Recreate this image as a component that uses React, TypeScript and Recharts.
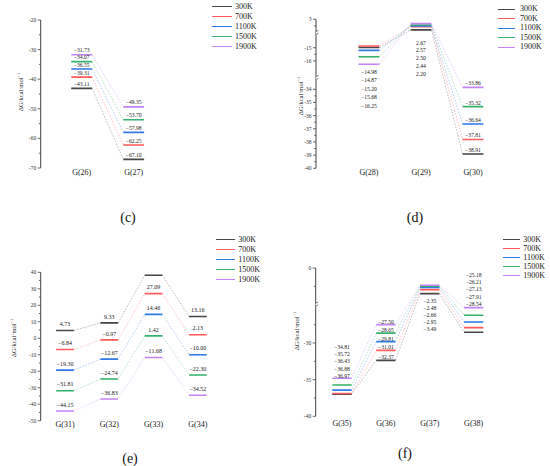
import React from 'react';
import { ComposedChart, Line, Scatter, XAxis, YAxis } from 'recharts';

const TEMPS = ['300K', '700K', '1100K', '1500K', '1900K'];
const COLORS = ['#474747', '#ff5c5c', '#2f7be6', '#36b26e', '#c585f5'];

// (c)
const STATES_C = ['G(26)', 'G(27)'];
const C_300K = [-43.11, -67.1];
const C_700K = [-39.31, -62.25];
const C_1100K = [-36.55, -57.98];
const C_1500K = [-34.07, -53.7];
const C_1900K = [-31.73, -49.35];
const MAJOR_C = [-20, -30, -40, -50, -60, -70];
const MINOR_C = [-25, -35, -45, -55, -65];

// (d)
const STATES_D = ['G(28)', 'G(29)', 'G(30)'];
const D_300K = [-14.98, 2.2, -38.91];
const D_700K = [-14.87, 2.44, -37.81];
const D_1100K = [-15.2, 2.5, -36.64];
const D_1500K = [-15.68, 2.57, -35.32];
const D_1900K = [-16.25, 2.67, -33.86];
const MAJOR_D = [3, -15, -16, -34, -35, -36, -37, -38, -39, -40];
const MINOR_D = [2.5, -15.5, -34.5, -35.5, -36.5, -37.5, -38.5, -39.5];

// (e)
const STATES_E = ['G(31)', 'G(32)', 'G(33)', 'G(34)'];
const E_300K = [4.73, 9.33, 38.21, 13.16];
const E_700K = [-6.84, -0.97, 27.09, 2.13];
const E_1100K = [-19.3, -12.67, 14.46, -10.0];
const E_1500K = [-31.81, -24.74, 1.42, -22.3];
const E_1900K = [-44.15, -36.83, -11.68, -34.52];
const MAJOR_E = [40, 30, 20, 10, 0, -10, -20, -30, -40, -50];
const MINOR_E = [35, 25, 15, 5, -5, -15, -25, -35, -45];

// (f)
const STATES_F = ['G(35)', 'G(36)', 'G(37)', 'G(38)'];
const F_300K = [-36.97, -32.37, -3.49, -28.54];
const F_700K = [-36.88, -31.01, -2.95, -27.91];
const F_1100K = [-36.43, -29.81, -2.66, -27.13];
const F_1500K = [-35.72, -28.65, -2.48, -26.21];
const F_1900K = [-34.81, -27.5, -2.35, -25.18];
const MAJOR_F = [0, -30, -35, -40];
const MINOR_F = [-2.5, -27.5, -32.5, -37.5];

const FONT = '"Liberation Serif", "Times New Roman", serif';
const W = 275;
const H = 233;

const fmt = (v: number) => (v < 0 ? '\u2212' : '') + Math.abs(v).toFixed(2);

type Stack = { cat: number; anchor: number; order: number[]; from: number; step: number };

type Cfg = {
  left: number;
  top: number;
  caption: string;
  states: string[];
  series: number[][];
  toT: (v: number) => number;
  yDomain: [number, number];
  majors: number[];
  minors: number[];
  breaks: number[];
  xDomain: [number, number];
  margin: { top: number; right: number; bottom: number; left: number };
  axisX: number;
  halfW: number;
  above: number[];
  aboveDy: number;
  labelSize: number;
  stacks: Stack[];
  xLabelDy: number;
  legend: { x: number; w: number; tx: number; y0: number; step: number };
  cap: { x: number; y: number };
  title: { x: number; y: number };
};

const levelData = (vals: number[], toT: (v: number) => number, w: number) =>
  vals.flatMap((v, i) => [
    { x: i + 1 - w, y: toT(v) },
    { x: i + 1 + w, y: toT(v) },
    { x: i + 1.5, y: null },
  ]);

const pathData = (vals: number[], toT: (v: number) => number, w: number) =>
  vals.flatMap((v, i) => [
    { x: i + 1 - w, y: toT(v) },
    { x: i + 1 + w, y: toT(v) },
  ]);

const BreakMark = (p: any) => (
  <g>
    <rect x={p.cx - 2.5} y={p.cy - 1.5} width={5} height={3} fill="#fff" />
    <line x1={p.cx - 2.5} y1={p.cy - 0.2} x2={p.cx + 2.5} y2={p.cy - 2.6} stroke="#444" strokeWidth={0.7} />
    <line x1={p.cx - 2.5} y1={p.cy + 2.6} x2={p.cx + 2.5} y2={p.cy + 0.2} stroke="#444" strokeWidth={0.7} />
  </g>
);

function Panel({ cfg }: { cfg: Cfg }) {
  const { toT, series, halfW } = cfg;
  const key = (t: number) => t.toFixed(3);
  const majorMap = new Map(cfg.majors.map((v) => [key(toT(v)), String(v)]));
  const ticks = [...cfg.majors, ...cfg.minors].map(toT);

  const YTick = (p: any) => {
    const label = majorMap.get(key(Number(p.payload.value)));
    const len = label !== undefined ? 3 : 1.8;
    return (
      <g>
        <line x1={p.x - len} y1={p.y} x2={p.x} y2={p.y} stroke="#444" strokeWidth={0.8} />
        {label !== undefined && (
          <text x={p.x - 4.5} y={p.y} textAnchor="end" dominantBaseline="central" fontSize={5.5} fontFamily={FONT} fill="#333">
            {label}
          </text>
        )}
      </g>
    );
  };

  const XTick = (p: any) => (
    <text x={p.x} y={p.y + cfg.xLabelDy} textAnchor="middle" dominantBaseline="central" fontSize={8} fontFamily={FONT} fill="#222">
      {cfg.states[Math.round(p.payload.value) - 1]}
    </text>
  );

  return (
    <div style={{ position: 'absolute', left: cfg.left, top: cfg.top, width: W, height: H }}>
      <ComposedChart width={W} height={H} margin={cfg.margin}>
        <XAxis
          type="number"
          dataKey="x"
          domain={cfg.xDomain}
          ticks={cfg.states.map((_, i) => i + 1)}
          interval={0}
          axisLine={false}
          tickLine={false}
          tickSize={0}
          tickMargin={0}
          height={20}
          tick={XTick}
          allowDataOverflow
        />
        <YAxis
          type="number"
          dataKey="y"
          domain={cfg.yDomain}
          ticks={ticks}
          interval={0}
          width={cfg.axisX}
          tickSize={0}
          tickMargin={0}
          tickLine={false}
          axisLine={{ stroke: '#444', strokeWidth: 1 }}
          tick={YTick}
          allowDataOverflow
          label={{
            content: () => (
              <text
                x={cfg.title.x}
                y={cfg.title.y}
                transform={`rotate(-90 ${cfg.title.x} ${cfg.title.y})`}
                textAnchor="middle"
                dominantBaseline="central"
                fontSize={6.5}
                fontFamily={FONT}
                fill="#222"
              >
                ΔG/kcal·mol
                <tspan dy={-2.2} fontSize={4.5}>
                  −1
                </tspan>
              </text>
            ),
          }}
        />
        {series.map((vals, s) => (
          <Line
            key={`path-${s}`}
            data={pathData(vals, toT, halfW)}
            dataKey="y"
            type="linear"
            stroke={COLORS[s]}
            strokeOpacity={0.6}
            strokeWidth={0.6}
            strokeDasharray="1.6 1.4"
            dot={false}
            activeDot={false}
            legendType="none"
            isAnimationActive={false}
          />
        ))}
        {series.map((vals, s) => (
          <Line
            key={`level-${s}`}
            data={levelData(vals, toT, halfW)}
            dataKey="y"
            type="linear"
            stroke={COLORS[s]}
            strokeWidth={1.6}
            dot={false}
            activeDot={false}
            name={TEMPS[s]}
            isAnimationActive={false}
          />
        ))}
        {series.map((vals, s) => (
          <Scatter
            key={`lab-${s}`}
            data={cfg.above.map((c) => ({ x: c + 1, y: toT(vals[c]), label: fmt(vals[c]) }))}
            dataKey="y"
            legendType="none"
            isAnimationActive={false}
            shape={(p: any) => (
              <text
                x={p.cx}
                y={p.cy - cfg.aboveDy}
                textAnchor="middle"
                dominantBaseline="central"
                fontSize={cfg.labelSize}
                fontFamily={FONT}
                fill="#222"
              >
                {p.payload.label}
              </text>
            )}
          />
        ))}
        {cfg.stacks.map((st, k) => (
          <Scatter
            key={`stack-${k}`}
            data={[{ x: st.cat + 1, y: toT(series[st.anchor][st.cat]), rows: st.order.map((s) => fmt(series[s][st.cat])) }]}
            dataKey="y"
            legendType="none"
            isAnimationActive={false}
            shape={(p: any) => (
              <g>
                {p.payload.rows.map((r: string, j: number) => (
                  <text
                    key={j}
                    x={p.cx}
                    y={p.cy + st.from + j * st.step}
                    textAnchor="middle"
                    dominantBaseline="central"
                    fontSize={cfg.labelSize}
                    fontFamily={FONT}
                    fill="#222"
                  >
                    {r}
                  </text>
                ))}
              </g>
            )}
          />
        ))}
        {cfg.breaks.length > 0 && (
          <Scatter
            data={cfg.breaks.map((b) => ({ x: cfg.xDomain[0], y: b }))}
            dataKey="y"
            legendType="none"
            isAnimationActive={false}
            shape={BreakMark}
          />
        )}
      </ComposedChart>
      {TEMPS.map((t, s) => {
        const y = cfg.legend.y0 + s * cfg.legend.step;
        return (
          <React.Fragment key={t}>
            <div
              style={{
                position: 'absolute',
                left: cfg.legend.x,
                top: y - 0.6,
                width: cfg.legend.w,
                height: 1.2,
                background: COLORS[s],
              }}
            />
            <div
              style={{
                position: 'absolute',
                left: cfg.legend.tx,
                top: y - 5,
                height: 10,
                lineHeight: '10px',
                fontSize: 8,
                fontFamily: FONT,
                color: '#222',
                whiteSpace: 'nowrap',
              }}
            >
              {t}
            </div>
          </React.Fragment>
        );
      })}
      <div
        style={{
          position: 'absolute',
          left: cfg.cap.x - 20,
          width: 40,
          top: cfg.cap.y - 8,
          height: 16,
          lineHeight: '16px',
          textAlign: 'center',
          fontSize: 14,
          fontFamily: FONT,
          color: '#111',
        }}
      >
        {cfg.caption}
      </div>
    </div>
  );
}

const toD = (v: number) => (v > 0 ? v - 31.69 : v > -20 ? v - 15.85 : v);
const toF = (v: number) => (v > -5.2 ? v : v + 19.77);

const PANELS: Cfg[] = [
  {
    left: 0,
    top: 0,
    caption: '(c)',
    states: STATES_C,
    series: [C_300K, C_700K, C_1100K, C_1500K, C_1900K],
    toT: (v) => v,
    yDomain: [-70, -20],
    majors: MAJOR_C,
    minors: MINOR_C,
    breaks: [],
    xDomain: [0.2115, 3.0],
    margin: { top: 20, right: 89.3, bottom: 45, left: 0 },
    axisX: 40.7,
    halfW: 0.2,
    above: [0, 1],
    aboveDy: 4.4,
    labelSize: 5.6,
    stacks: [],
    xLabelDy: 4,
    legend: { x: 212.3, w: 19.4, tx: 235, y0: 6.7, step: 10 },
    cap: { x: 128, y: 218 },
    title: { x: 20, y: 92 },
  },
  {
    left: 275,
    top: 0,
    caption: '(d)',
    states: STATES_D,
    series: [D_300K, D_700K, D_1100K, D_1500K, D_1900K],
    toT: toD,
    yDomain: [-40, -28.69],
    majors: MAJOR_D,
    minors: MINOR_D,
    breaks: [-29.73, -33.15],
    xDomain: [-0.019, 3.5],
    margin: { top: 19.3, right: 51, bottom: 44.7, left: 0 },
    axisX: 41,
    halfW: 0.2,
    above: [2],
    aboveDy: 4,
    labelSize: 5.6,
    stacks: [
      { cat: 0, anchor: 4, order: [0, 1, 2, 3, 4], from: 7.5, step: 8.5 },
      { cat: 1, anchor: 0, order: [4, 3, 2, 1, 0], from: 12.7, step: 7.9 },
    ],
    xLabelDy: 3.7,
    legend: { x: 222.7, w: 17.3, tx: 245, y0: 9.3, step: 9.5 },
    cap: { x: 140, y: 218 },
    title: { x: 25, y: 96 },
  },
  {
    left: 0,
    top: 233,
    caption: '(e)',
    states: STATES_E,
    series: [E_300K, E_700K, E_1100K, E_1500K, E_1900K],
    toT: (v) => v,
    yDomain: [-50, 40],
    majors: MAJOR_E,
    minors: MINOR_E,
    breaks: [],
    xDomain: [0.451, 4.6],
    margin: { top: 39.3, right: 50.6, bottom: 25.3, left: 0 },
    axisX: 40.7,
    halfW: 0.2,
    above: [0, 1, 2, 3],
    aboveDy: 6.3,
    labelSize: 6,
    stacks: [],
    xLabelDy: 3.3,
    legend: { x: 216, w: 19, tx: 238.3, y0: 6.7, step: 10 },
    cap: { x: 130, y: 225.5 },
    title: { x: 13.3, y: 105 },
  },
  {
    left: 275,
    top: 233,
    caption: '(f)',
    states: STATES_F,
    series: [F_300K, F_700K, F_1100K, F_1500K, F_1900K],
    toT: toF,
    yDomain: [-20.23, 0],
    majors: MAJOR_F,
    minors: MINOR_F,
    breaks: [-5.0],
    xDomain: [0.401, 4.6],
    margin: { top: 35, right: 50, bottom: 29.7, left: 0 },
    axisX: 40.7,
    halfW: 0.22,
    above: [1],
    aboveDy: 3,
    labelSize: 5.6,
    stacks: [
      { cat: 0, anchor: 4, order: [4, 3, 2, 1, 0], from: -31, step: 7.1 },
      { cat: 2, anchor: 0, order: [4, 3, 2, 1, 0], from: 7.1, step: 7.15 },
      { cat: 3, anchor: 4, order: [4, 3, 2, 1, 0], from: -32.4, step: 7.1 },
    ],
    xLabelDy: 7.5,
    legend: { x: 228.3, w: 16.7, tx: 248.3, y0: 6.7, step: 9 },
    cap: { x: 130, y: 220.7 },
    title: { x: 21.7, y: 98 },
  },
];

export default function App() {
  return (
    <div style={{ position: 'absolute', left: 0, top: 0, width: 550, height: 466, background: '#fff', overflow: 'hidden' }}>
      {PANELS.map((cfg) => (
        <Panel key={cfg.caption} cfg={cfg} />
      ))}
    </div>
  );
}
